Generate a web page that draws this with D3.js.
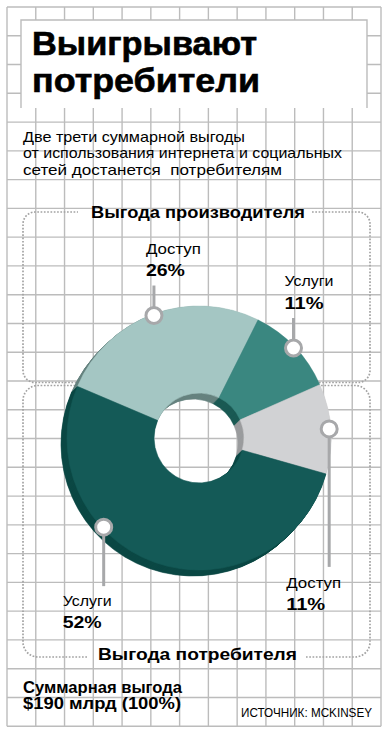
<!DOCTYPE html>
<head>
<meta charset="utf-8">
<style>
body { margin: 0; background: #fff; }
text { font-family: "Liberation Sans", Arial, sans-serif; white-space: pre; }
</style>
</head>
<body>
<script src="https://d3js.org/d3.v7.min.js"></script>
<script>
// data
var titleLines = ["Выигрывают", "потребители"];
var subtitleLines = ["Две трети суммарной выгоды", "от использования интернета и социальных", "сетей достанется  потребителям"];
var groups = ["Выгода производителя", "Выгода потребителя"];
var segments = ["Доступ", "Услуги", "Доступ", "Услуги"];
var shares = [26, 11, 11, 52];
var totalLines = ["Суммарная выгода", "$190 млрд (100%)"];
var source = "ИСТОЧНИК: MCKINSEY";

var width = 389, height = 737;
var faceColor = ["#a4c6c3", "#3a8780", "#d1d2d4", "#145a57"];
var sideColor = ["#66837f", "#1b5a54", "#9b9c9e", "#0b4844"];
var grey = "#bcbcbc", dots = "#a3a3a3", pin = "#a7a8aa";

var svg = d3.select("body").append("svg")
    .attr("width", width)
    .attr("height", height);

svg.append("rect").attr("width", width).attr("height", height).attr("fill", "#fff");

// grid
var gx0 = 7, gx1 = 381, gy0 = 7, cols = 13, rows = 25;
var step = (gx1 - gx0) / cols, gy1 = gy0 + rows * step;
var grid = svg.append("g").attr("stroke", grey).attr("stroke-width", 1.4);
d3.range(cols + 1).forEach(function (i) {
    grid.append("line").attr("x1", gx0 + i * step).attr("x2", gx0 + i * step)
        .attr("y1", gy0).attr("y2", gy1);
});
d3.range(rows + 1).forEach(function (i) {
    grid.append("line").attr("x1", gx0).attr("x2", gx1)
        .attr("y1", gy0 + i * step).attr("y2", gy0 + i * step);
});

// title box
svg.append("rect").attr("x", 21).attr("y", 20).attr("width", 346).attr("height", 88).attr("fill", "#fff");
svg.append("path").attr("d", "M21,108V20H367V108").attr("fill", "none")
    .attr("stroke", grey).attr("stroke-width", 1.4);
svg.selectAll(".title").data(titleLines).enter().append("text")
    .attr("x", 32).attr("y", function (d, i) { return 55 + i * 37; })
    .attr("font-size", 33).attr("font-weight", "bold")
    .attr("stroke", "#000").attr("stroke-width", 0.6)
    .attr("textLength", function (d, i) { return i ? 228 : 225; })
    .attr("lengthAdjust", "spacingAndGlyphs")
    .text(function (d) { return d; });

svg.selectAll(".sub").data(subtitleLines).enter().append("text")
    .attr("x", 23).attr("y", function (d, i) { return 141.5 + i * 16.6; })
    .attr("font-size", 14.5)
    .attr("textLength", function (d, i) { return [222, 319, 259][i]; })
    .attr("lengthAdjust", "spacingAndGlyphs")
    .text(function (d) { return d; });

// dotted group boxes
function box(x0, y0, x1, y1, r, gapA, gapB, top) {
    var p = d3.path();
    if (top) {
        p.moveTo(gapB, y0);
        p.lineTo(x1 - r, y0); p.arcTo(x1, y0, x1, y0 + r, r);
        p.lineTo(x1, y1 - r); p.arcTo(x1, y1, x1 - r, y1, r);
        p.lineTo(x0 + r, y1); p.arcTo(x0, y1, x0, y1 - r, r);
        p.lineTo(x0, y0 + r); p.arcTo(x0, y0, x0 + r, y0, r);
        p.lineTo(gapA, y0);
    } else {
        p.moveTo(gapA, y1);
        p.lineTo(x0 + r, y1); p.arcTo(x0, y1, x0, y1 - r, r);
        p.lineTo(x0, y0 + r); p.arcTo(x0, y0, x0 + r, y0, r);
        p.lineTo(x1 - r, y0); p.arcTo(x1, y0, x1, y0 + r, r);
        p.lineTo(x1, y1 - r); p.arcTo(x1, y1, x1 - r, y1, r);
        p.lineTo(gapB, y1);
    }
    svg.append("path").attr("d", p.toString()).attr("fill", "none")
        .attr("stroke", dots).attr("stroke-width", 1.7)
        .attr("stroke-dasharray", "1.7,1.6");
}
box(23, 212, 370, 382.5, 12, 78, 312, true);
box(23, 385.5, 370, 657, 15, 87, 306, false);

svg.selectAll(".grp").data(groups).enter().append("text")
    .attr("x", function (d, i) { return i ? 98 : 91; })
    .attr("y", function (d, i) { return i ? 660 : 218; })
    .attr("font-size", 17).attr("font-weight", "bold")
    .attr("textLength", function (d, i) { return i ? 199 : 214; })
    .attr("lengthAdjust", "spacingAndGlyphs")
    .text(function (d) { return d; });

// donut
var cx = 199, cy = 438, R = 132, r0 = 45, depth = 6;
var a0 = -67 * Math.PI / 180;
var pie = d3.pie().sort(null).startAngle(a0).endAngle(a0 + 2 * Math.PI);
var arcs = pie(shares);
var arc = d3.arc().innerRadius(r0).outerRadius(R);

d3.range(depth, 0, -0.5).forEach(function (t) {
    svg.append("g").attr("transform", "translate(" + (cx - t) + "," + (cy + t) + ")")
        .selectAll("path").data(arcs).enter().append("path")
        .attr("d", arc)
        .attr("fill", function (d, i) { return sideColor[i]; })
        .attr("stroke", function (d, i) { return sideColor[i]; })
        .attr("stroke-width", 0.6);
});
svg.append("g").attr("transform", "translate(" + cx + "," + cy + ")")
    .selectAll("path").data(arcs).enter().append("path")
    .attr("d", arc)
    .attr("fill", function (d, i) { return faceColor[i]; })
    .attr("stroke", function (d, i) { return faceColor[i]; })
    .attr("stroke-width", 0.6);

// pins and labels
var pinAt = [0.5, 0.5, 0.5, 0.647];
var layout = [
    { dir: -1, len: 30, dx: -8, b1: -32, b2: -10 },
    { dir: -1, len: 30, dx: -9, b1: -32, b2: -9 },
    { dir: 1, len: 138, dx: -43, b1: 21, b2: 43 },
    { dir: 1, len: 59, dx: -41, b1: 20, b2: 42 }
];
var pinArc = d3.arc().innerRadius(R - 1.5).outerRadius(R - 1.5);
arcs.forEach(function (d, i) {
    var a = d.startAngle + (d.endAngle - d.startAngle) * pinAt[i];
    var c = pinArc.centroid({ startAngle: a, endAngle: a });
    var px = cx + c[0], py = cy + c[1], L = layout[i];
    var end = py + L.dir * L.len;
    svg.append("line").attr("x1", px).attr("y1", py).attr("x2", px).attr("y2", end)
        .attr("stroke", pin).attr("stroke-width", 3);
    svg.append("circle").attr("cx", px).attr("cy", py).attr("r", 8)
        .attr("fill", "#fff").attr("stroke", pin).attr("stroke-width", 3);
    svg.append("text").attr("x", px + L.dx).attr("y", end + L.b1)
        .attr("font-size", 15)
        .attr("textLength", segments[i] == "Доступ" ? 55 : 49)
        .attr("lengthAdjust", "spacingAndGlyphs")
        .text(segments[i]);
    svg.append("text").attr("x", px + L.dx).attr("y", end + L.b2)
        .attr("font-size", 17).attr("font-weight", "bold")
        .attr("textLength", 39).attr("lengthAdjust", "spacingAndGlyphs")
        .text(shares[i] + "%");
});

// footer
svg.selectAll(".tot").data(totalLines).enter().append("text")
    .attr("x", 23).attr("y", function (d, i) { return 693 + i * 16; })
    .attr("font-size", 16).attr("font-weight", "bold")
    .attr("textLength", function (d, i) { return i ? 158 : 159; })
    .attr("lengthAdjust", "spacingAndGlyphs")
    .text(function (d) { return d; });
svg.append("text").attr("x", 372).attr("y", 717).attr("text-anchor", "end")
    .attr("font-size", 13)
    .attr("textLength", 131).attr("lengthAdjust", "spacingAndGlyphs")
    .text(source);
</script>
</body>
